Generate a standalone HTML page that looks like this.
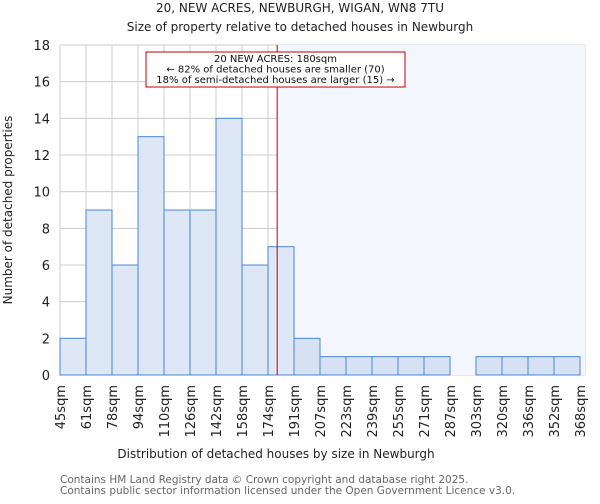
<!DOCTYPE html>
<html><head><meta charset="utf-8"><style>
body{margin:0;background:#fff;font-family:"DejaVu Sans","Liberation Sans",sans-serif;}
svg text{font-family:"DejaVu Sans","Liberation Sans",sans-serif;}
</style></head><body>
<svg id="chart" width="600" height="500" xmlns="http://www.w3.org/2000/svg">
<text x="300" y="12" font-size="12" text-anchor="middle" fill="#222">20, NEW ACRES, NEWBURGH, WIGAN, WN8 7TU</text>
<text x="300" y="31" font-size="12" text-anchor="middle" fill="#222">Size of property relative to detached houses in Newburgh</text>
<g id="grid"></g>
<g id="shade"></g>
<g id="bars"></g>
<g id="axes"></g>
<text transform="translate(12,210) rotate(-90)" font-size="12" text-anchor="middle" fill="#222">Number of detached properties</text>
<text x="276" y="458" font-size="12" text-anchor="middle" fill="#222">Distribution of detached houses by size in Newburgh</text>
<text x="60" y="483" font-size="10.5" fill="#666">Contains HM Land Registry data © Crown copyright and database right 2025.</text>
<text x="60" y="494" font-size="10.5" fill="#666">Contains public sector information licensed under the Open Government Licence v3.0.</text>
</svg>
<script>
const edgeLabels=["45sqm","61sqm","78sqm","94sqm","110sqm","126sqm","142sqm","158sqm","174sqm","191sqm","207sqm","223sqm","239sqm","255sqm","271sqm","287sqm","303sqm","320sqm","336sqm","352sqm","368sqm"];
const edgeValues=[45,61,78,94,110,126,142,158,174,191,207,223,239,255,271,287,303,320,336,352,368];
const counts=[2,9,6,13,9,9,14,6,7,2,1,1,1,1,1,0,1,1,1,1];
const yTicks=[0,2,4,6,8,10,12,14,16,18];
const subjectSize=180;
const annotationLines=["20 NEW ACRES: 180sqm","← 82% of detached houses are smaller (70)","18% of semi-detached houses are larger (15) →"];

const NS="http://www.w3.org/2000/svg";
const X0=60,X1=580,Y0=375,Y1=45,YMAX=18,RIGHT=585;
const bw=(X1-X0)/counts.length;
function xi(i){return X0+i*bw;}
function xv(v){for(let i=0;i<edgeValues.length-1;i++){if(v<=edgeValues[i+1])return xi(i)+bw*(v-edgeValues[i])/(edgeValues[i+1]-edgeValues[i]);}return X1;}
function y(v){return Y0-(Y0-Y1)*v/YMAX;}
function mk(t,a,p){const e=document.createElementNS(NS,t);for(const k in a)e.setAttribute(k,a[k]);p.appendChild(e);return e;}
const grid=document.getElementById('grid'),shade=document.getElementById('shade'),bars=document.getElementById('bars'),axes=document.getElementById('axes');
const sx=xv(subjectSize);
let r=mk('rect',{x:sx,y:Y1,width:RIGHT-sx,height:Y0-Y1,fill:'#f3f6fd'},shade);


yTicks.forEach(t=>{let l=mk('line',{x1:X0,x2:RIGHT,y1:y(t),y2:y(t),stroke:'#ccc','stroke-width':1},grid);


let tx=mk('text',{x:X0-10,y:y(t)+5,'font-size':13,'text-anchor':'end',fill:'#222'},axes);tx.textContent=t;

});
edgeLabels.forEach((lb,i)=>{let l=mk('line',{x1:xi(i),x2:xi(i),y1:Y1,y2:Y0,stroke:'#ccc','stroke-width':1},grid);


let tx=mk('text',{transform:`translate(${xi(i)+5},${Y0+10}) rotate(-90)`,'font-size':13,'text-anchor':'end',fill:'#222'},axes);tx.textContent=lb;

});
mk('line',{x1:RIGHT,x2:RIGHT,y1:Y1,y2:Y0,stroke:'#ccc'},grid);
counts.forEach((c,i)=>{if(c<=0)return;const right=xi(i)>=sx-1;
let b=mk('rect',{x:xi(i),y:y(c),width:bw,height:Y0-y(c),fill:right?'#d6e2f3':'#dde7f5',stroke:'#4a86d8','stroke-width':1},bars);

});
let rl=mk('line',{x1:sx,x2:sx,y1:Y1,y2:Y0,stroke:'#c00000','stroke-width':1},bars);


let ab=mk('rect',{x:146,y:52,width:259,height:35,fill:'#fff',stroke:'#c00000','stroke-width':1},bars);


annotationLines.forEach((s,i)=>{let t=mk('text',{x:275.5,y:62+i*10.5,'font-size':10,'text-anchor':'middle',fill:'#111'},bars);t.textContent=s;

});
</script>
</body></html>
